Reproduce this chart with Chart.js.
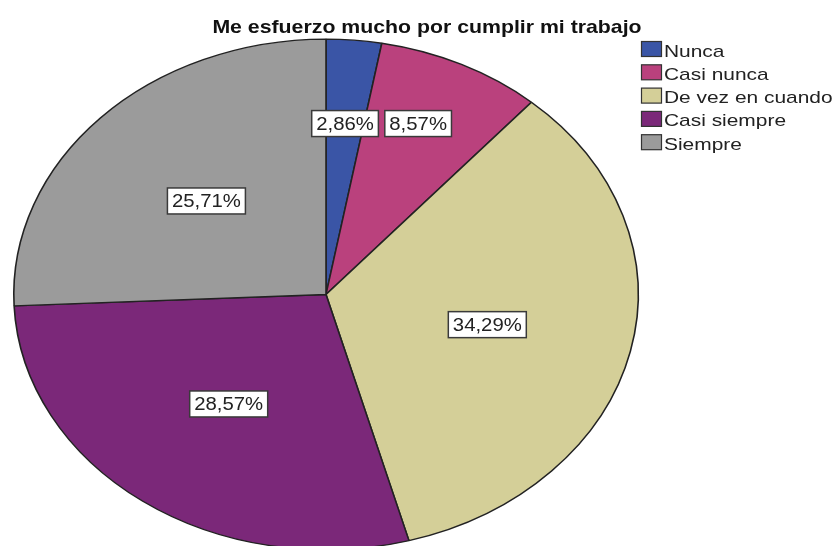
<!DOCTYPE html>
<html>
<head>
<meta charset="utf-8">
<script src="https://cdn.jsdelivr.net/npm/chart.js@4/dist/chart.umd.min.js"></script>
<style>
  html, body { margin: 0; padding: 0; background: #ffffff; overflow: hidden; }
  #wrap { width: 834px; height: 546px; overflow: hidden; position: relative; }
  canvas { display: block; }
</style>
</head>
<body>
<div id="wrap"><canvas id="c" width="834" height="560"></canvas></div>
<script>
const chartTitle = "Me esfuerzo mucho por cumplir mi trabajo";
const categories = ["Nunca", "Casi nunca", "De vez en cuando", "Casi siempre", "Siempre"];
const percentages = [2.86, 8.57, 34.29, 28.57, 25.71];
const sliceColors = ["#3a55a6", "#ba417d", "#d4cf98", "#7b2879", "#9b9b9b"];

const FONT = "'Liberation Sans', Arial, sans-serif";
const ELLIPSE_SX = 313 / 256;

function fmtPct(v) { return v.toFixed(2).replace('.', ',') + '%'; }

function stretchText(ctx, text, x, y, align, stretch) {
  ctx.save();
  ctx.translate(x, y);
  ctx.scale(stretch, 1);
  ctx.textAlign = align;
  ctx.fillText(text, 0, 0);
  ctx.restore();
}

const ellipsePlugin = {
  id: 'ellipse',
  beforeDatasetsDraw(chart) {
    const meta = chart.getDatasetMeta(0);
    const a = meta.data[0];
    const ctx = chart.ctx;
    ctx.save();
    ctx.translate(a.x, a.y);
    ctx.scale(ELLIPSE_SX, 1);
    ctx.translate(-a.x, -a.y);
  },
  afterDatasetsDraw(chart) {
    chart.ctx.restore();
  }
};

const decorPlugin = {
  id: 'decor',
  afterDraw(chart) {
    const ctx = chart.ctx;
    const meta = chart.getDatasetMeta(0);
    // Title
    ctx.save();
    ctx.fillStyle = '#111111';
    ctx.font = 'bold 19px ' + FONT;
    ctx.textBaseline = 'alphabetic';
    stretchText(ctx, chartTitle, 427, 33, 'center', 1.12);
    ctx.restore();

    // Legend
    ctx.save();
    ctx.font = '17px ' + FONT;
    ctx.textBaseline = 'alphabetic';
    categories.forEach((lab, i) => {
      const top = 41.5 + i * 23.3;
      ctx.fillStyle = sliceColors[i];
      ctx.fillRect(641.5, top, 20, 15);
      ctx.strokeStyle = '#333333';
      ctx.lineWidth = 1.2;
      ctx.strokeRect(641.5, top, 20, 15);
      ctx.fillStyle = '#222222';
      stretchText(ctx, lab, 664, top + 15, 'left', 1.23);
    });
    ctx.restore();

    // Percentage labels
    const pos = [];
    meta.data.forEach((arc, i) => {
      const mid = (arc.startAngle + arc.endAngle) / 2;
      const small = percentages[i] < 10;
      const f = small ? 0.68 : 0.53;
      const r = arc.outerRadius * f;
      pos.push({ x: arc.x + Math.cos(mid) * r * ELLIPSE_SX, y: arc.y + Math.sin(mid) * r, small });
    });
    const smallYs = pos.filter(p => p.small).map(p => p.y);
    const topY = Math.min(...smallYs) + 2;
    pos.forEach(p => { if (p.small) p.y = topY; });

    ctx.save();
    ctx.font = '18px ' + FONT;
    ctx.textBaseline = 'middle';
    const ts = 1.13;
    pos.forEach((p, i) => {
      const txt = fmtPct(percentages[i]);
      const w = ctx.measureText(txt).width * ts + 9;
      const h = 26;
      ctx.fillStyle = '#ffffff';
      ctx.fillRect(p.x - w / 2, p.y - h / 2, w, h);
      ctx.strokeStyle = '#3a3a3a';
      ctx.lineWidth = 1.5;
      ctx.strokeRect(p.x - w / 2, p.y - h / 2, w, h);
      ctx.fillStyle = '#222222';
      stretchText(ctx, txt, p.x, p.y + 1, 'center', ts);
    });
    ctx.restore();
  }
};

new Chart(document.getElementById('c'), {
  type: 'pie',
  data: {
    labels: categories,
    datasets: [{
      data: percentages,
      backgroundColor: sliceColors,
      borderColor: '#222222',
      borderWidth: 1.3,
      hoverOffset: 0
    }]
  },
  options: {
    responsive: false,
    animation: false,
    devicePixelRatio: 1,
    layout: { padding: { top: 38.5, bottom: 9.5, left: 70, right: 252 } },
    plugins: {
      legend: { display: false },
      title: { display: false },
      tooltip: { enabled: false }
    }
  },
  plugins: [ellipsePlugin, decorPlugin]
});
</script>
</body>
</html>
